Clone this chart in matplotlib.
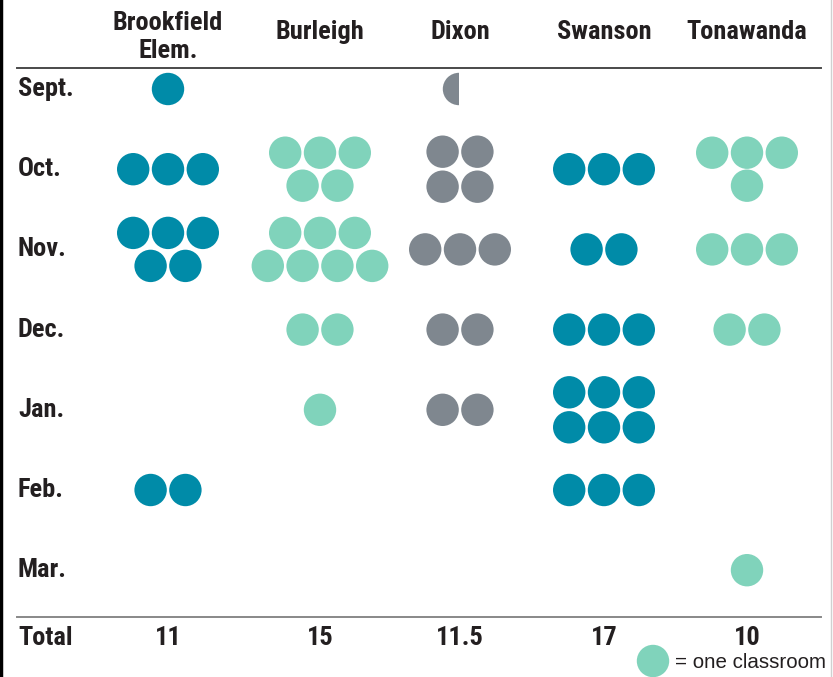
import matplotlib
matplotlib.use("Agg")
import matplotlib.pyplot as plt
from matplotlib.patches import Circle, Wedge
from matplotlib import font_manager

# ---- data ----
schools = ["Brookfield\nElem.", "Burleigh", "Dixon", "Swanson", "Tonawanda"]
months = ["Sept.", "Oct.", "Nov.", "Dec.", "Jan.", "Feb.", "Mar."]
brookfield = [1, 3, 5, 0, 0, 2, 0]
burleigh = [0, 5, 7, 2, 1, 0, 0]
dixon = [0.5, 4, 3, 2, 2, 0, 0]
swanson = [0, 3, 2, 3, 6, 3, 0]
tonawanda = [0, 4, 3, 2, 0, 0, 1]
series = [brookfield, burleigh, dixon, swanson, tonawanda]

# ---- styles / layout ----
TEAL = "#008BA8"
MINT = "#80D3BB"
GRAY = "#7F878F"
colors = [TEAL, MINT, GRAY, TEAL, MINT]
# row splits for cells that wrap to two lines (school index, month index)
splits = {(0, 2): [3, 2], (1, 1): [3, 2], (1, 2): [3, 4],
          (2, 1): [2, 2], (3, 4): [3, 3], (4, 1): [3, 1]}

names = {f.name for f in font_manager.fontManager.ttflist}
cond = [f for f in ["Liberation Sans Narrow", "Roboto Condensed", "DejaVu Sans"] if f in names] + ["DejaVu Sans"]
reg = [f for f in ["Liberation Sans", "DejaVu Sans"] if f in names]

W, H = 833, 677
fig = plt.figure(figsize=(W / 100, H / 100), dpi=100)
ax = fig.add_axes([0, 0, 1, 1])
ax.set_xlim(0, W)
ax.set_ylim(H, 0)
ax.set_aspect("equal")
ax.axis("off")

col_x = [168, 320, 460, 604, 747]
row_y0, row_dy = 89, 80.2
R = 16.2
PITCH = 34.8
FS = 19
TXT = "#231f20"

# frame edges
ax.plot([1.5, 1.5], [0, H], color="black", lw=3.2, solid_capstyle="butt")
ax.plot([831, 831], [0, H], color="#d0d0d0", lw=1)

# header
for i, s in enumerate(schools):
    ax.text(col_x[i], 37 if "\n" in s else 32, s, ha="center", va="center",
            fontsize=FS, fontweight="bold", family=cond, color=TXT,
            linespacing=1.22)

ax.plot([17, 821], [68, 68], color="#4a4a4a", lw=1.4)

# month labels
for j, m in enumerate(months):
    ax.text(18, row_y0 + j * row_dy, m, ha="left", va="center", fontsize=FS,
            fontweight="bold", family=cond, color=TXT)

# dots
for i, vals in enumerate(series):
    for j, v in enumerate(vals):
        if v == 0:
            continue
        cy = row_y0 + j * row_dy
        full = int(v)
        half = v - full > 0
        if full == 0 and half:
            ax.add_patch(Wedge((col_x[i] - 1, cy), R, 90, 270, color=colors[i], lw=0))
            continue
        rows = splits.get((i, j), [full])
        gap = 35 if len(set(rows)) == 1 else 33
        ys = [cy + (k - (len(rows) - 1) / 2) * gap for k in range(len(rows))]
        for n, yy in zip(rows, ys):
            for k in range(n):
                xx = col_x[i] + (k - (n - 1) / 2) * PITCH
                ax.add_patch(Circle((xx, yy), R, color=colors[i], lw=0))

ax.plot([17, 821], [617, 617], color="#888888", lw=1.4)

# totals
ax.text(18, 638, "Total", ha="left", va="center", fontsize=FS, fontweight="bold",
        family=cond, color=TXT)
for i, vals in enumerate(series):
    ax.text(col_x[i], 638, f"{sum(vals):g}", ha="center", va="center", fontsize=FS,
            fontweight="bold", family=cond, color=TXT)

# legend
ax.add_patch(Circle((653, 661), R, color=MINT, lw=0))
ax.text(675, 662, "= one classroom", ha="left", va="center", fontsize=14.8,
        family=reg, color=TXT)

fig.savefig("out.png", dpi=100)
